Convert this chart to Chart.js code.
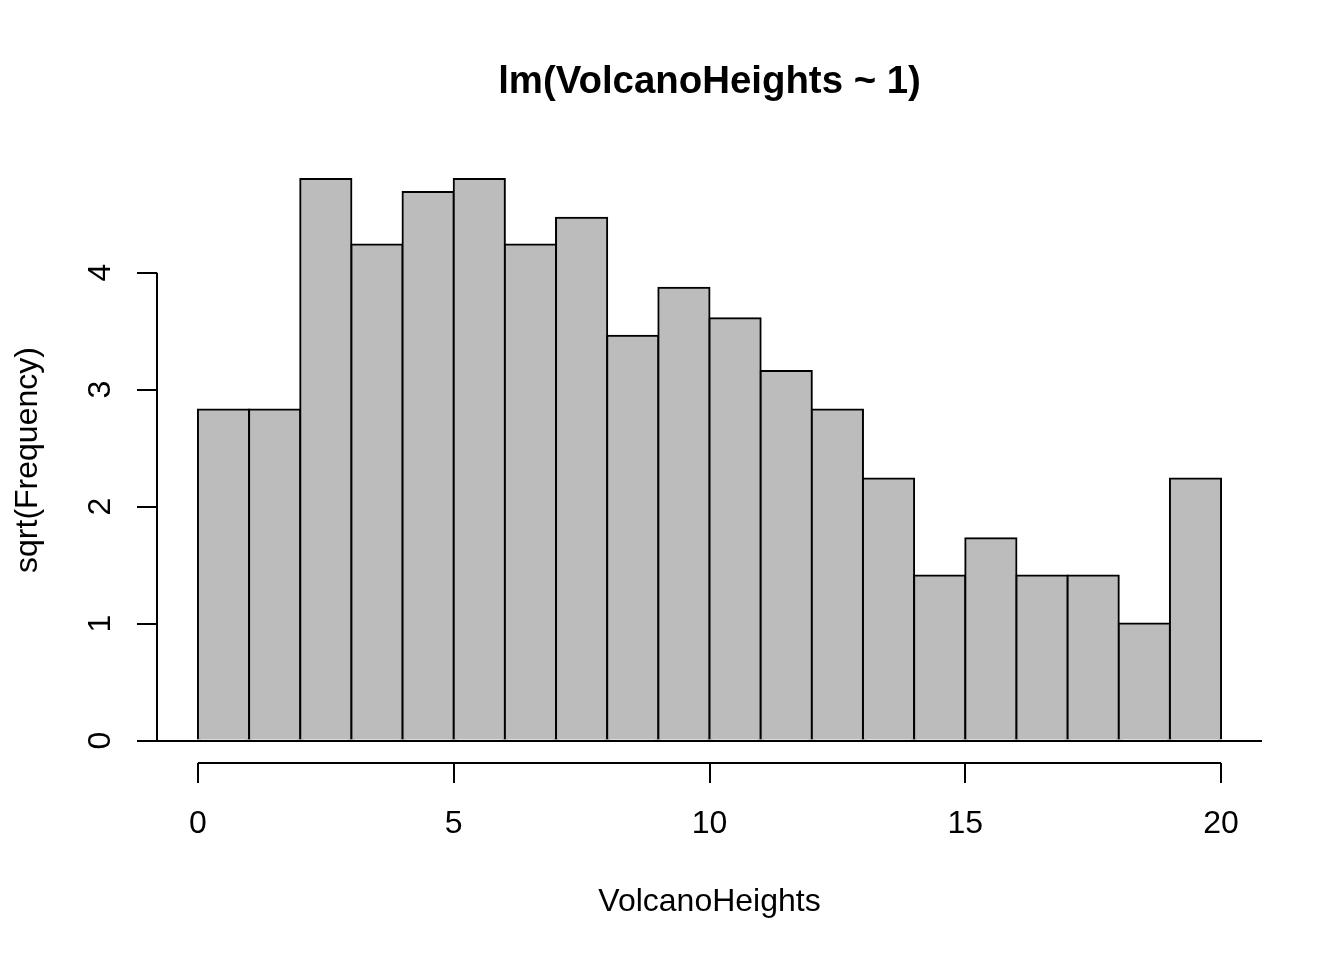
<!DOCTYPE html>
<html>
<head>
<meta charset="utf-8">
<title>lm(VolcanoHeights ~ 1)</title>
<script src="https://cdn.jsdelivr.net/npm/chart.js@4.4.1/dist/chart.umd.min.js"></script>
<style>
  html, body { margin: 0; padding: 0; background: #fff; }
  #wrap { width: 1344px; height: 960px; }
</style>
</head>
<body>
<div id="wrap"><canvas id="myChart"></canvas></div>
<script>
// bin midpoints (bins are 1 unit wide, 0..20)
var binMids = [0.5,1.5,2.5,3.5,4.5,5.5,6.5,7.5,8.5,9.5,10.5,11.5,12.5,13.5,14.5,15.5,16.5,17.5,18.5,19.5];
// bar heights
var sqrtFreq = [2.83,2.83,4.80,4.24,4.69,4.80,4.24,4.47,3.46,3.87,3.61,3.16,2.83,2.24,1.41,1.73,1.41,1.41,1.00,2.24];
var xTicks = [0,5,10,15,20];
var yTicks = [0,1,2,3,4];

Chart.defaults.font.family = "'Liberation Sans', Arial, Helvetica, sans-serif";
Chart.defaults.color = '#000';

// R-style axis lines: only from first to last tick, plus the abline at 0
var rAxes = {
  id: 'rAxes',
  afterDatasetsDraw: function(chart) {
    var c = chart.ctx, a = chart.chartArea;
    var xs = chart.scales.x, ys = chart.scales.y;
    c.save();
    c.strokeStyle = '#000';
    c.lineWidth = 2;
    c.beginPath();
    // horizontal line at y = 0 across plot region
    var y0 = Math.round(ys.getPixelForValue(0));
    c.moveTo(a.left, y0);
    c.lineTo(a.right, y0);
    // y axis line
    c.moveTo(a.left, ys.getPixelForValue(yTicks[0]));
    c.lineTo(a.left, ys.getPixelForValue(yTicks[yTicks.length - 1]));
    // x axis line
    c.moveTo(xs.getPixelForValue(xTicks[0]), a.bottom);
    c.lineTo(xs.getPixelForValue(xTicks[xTicks.length - 1]), a.bottom);
    c.stroke();
    c.restore();
  }
};

var ctx = document.getElementById('myChart');
var myChart = new Chart(ctx, {
  type: 'bar',
  data: {
    datasets: [{
      data: binMids.map(function(m, i) { return {x: m, y: sqrtFreq[i]}; }),
      backgroundColor: '#BCBCBC',
      borderColor: '#000',
      borderWidth: 2,
      inflateAmount: 1,
      barPercentage: 1,
      categoryPercentage: 1
    }]
  },
  options: {
    responsive: true,
    maintainAspectRatio: false,
    devicePixelRatio: 1,
    animation: false,
    layout: { padding: { left: 0, right: 82, top: 0, bottom: 0 } },
    plugins: {
      legend: { display: false },
      tooltip: { enabled: false },
      title: {
        display: true,
        fullSize: false,
        text: 'lm(VolcanoHeights ~ 1)',
        font: { size: 38.4, weight: 'bold' },
        color: '#000',
        padding: { top: 59, bottom: 52 }
      }
    },
    scales: {
      x: {
        type: 'linear',
        position: 'bottom',
        min: -0.8,
        max: 20.8,
        offset: false,
        afterBuildTicks: function(s) { s.ticks = xTicks.map(function(v) { return {value: v}; }); },
        afterFit: function(s) { s.height = 197; },
        ticks: { font: { size: 32 }, color: '#000', padding: 21.5, maxRotation: 0, autoSkip: false },
        grid: { offset: false, drawOnChartArea: false, drawTicks: true, tickLength: 20, color: '#000', lineWidth: 2 },
        border: { display: false },
        title: { display: true, text: 'VolcanoHeights', font: { size: 32 }, color: '#000', padding: { top: 0, bottom: 39 } }
      },
      y: {
        type: 'linear',
        min: -0.192,
        max: 4.988,
        afterBuildTicks: function(s) { s.ticks = yTicks.map(function(v) { return {value: v}; }); },
        afterFit: function(s) { s.width = 157; },
        ticks: { font: { size: 32 }, color: '#000', padding: 26.5, minRotation: 90, maxRotation: 90, crossAlign: 'center', autoSkip: false },
        grid: { drawOnChartArea: false, drawTicks: true, tickLength: 20, color: '#000', lineWidth: 2 },
        border: { display: false },
        title: { display: true, text: 'sqrt(Frequency)', font: { size: 32 }, color: '#000', padding: { top: 9, bottom: 0 } }
      }
    }
  },
  plugins: [rAxes]
});
</script>
</body>
</html>
